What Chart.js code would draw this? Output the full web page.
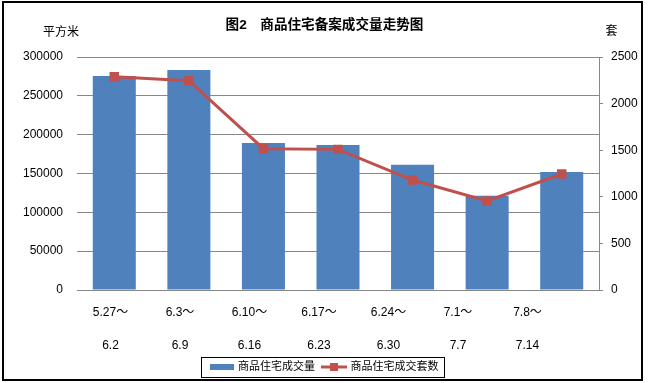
<!DOCTYPE html>
<html>
<head>
<meta charset="utf-8">
<script src="https://cdn.jsdelivr.net/npm/chart.js@4"></script>
<style>
  html, body { margin: 0; padding: 0; background: #fff; }
  #wrap { width: 649px; height: 383px; }
</style>
</head>
<body>
<div id="wrap"><canvas id="c" width="649" height="383"></canvas></div>
<script>
// ---- data ----
const categories = [
  ['5.27～', '6.2'],
  ['6.3～', '6.9'],
  ['6.10～', '6.16'],
  ['6.17～', '6.23'],
  ['6.24～', '6.30'],
  ['7.1～', '7.7'],
  ['7.8～', '7.14']
];
const areaValues = [275500, 283300, 189300, 186700, 161300, 121400, 151900];
const unitValues = [2289, 2246, 1516, 1509, 1180, 955, 1245];
const leftTicks = [0, 50000, 100000, 150000, 200000, 250000, 300000];
const rightTicks = [0, 500, 1000, 1500, 2000, 2500];
const titleText = '图2　商品住宅备案成交量走势图';
const leftUnit = '平方米';
const rightUnit = '套';
const seriesNames = ['商品住宅成交量', '商品住宅成交套数'];

const BLUE = '#4F81BD';
const RED = '#C0504D';
const GRID = '#888888';
const FONT = '"Liberation Sans", "Noto Sans CJK SC", sans-serif';

// legend symbol images
function makeBarSymbol() {
  const cv = document.createElement('canvas');
  cv.width = 24; cv.height = 6;
  const g = cv.getContext('2d');
  g.fillStyle = BLUE; g.fillRect(0, 0, 24, 6);
  return cv;
}
function makeLineSymbol() {
  const cv = document.createElement('canvas');
  cv.width = 26; cv.height = 8;
  const g = cv.getContext('2d');
  g.fillStyle = RED;
  g.fillRect(0, 3, 26, 3);
  g.fillRect(9, 0, 8, 8);
  return cv;
}
const barSym = makeBarSymbol();
const lineSym = makeLineSymbol();

const decor = {
  id: 'decor',
  beforeDraw(chart) {
    const ctx = chart.ctx;
    ctx.save();
    ctx.fillStyle = '#fff';
    ctx.fillRect(0, 0, chart.width, chart.height);
    ctx.restore();
  },
  afterDraw(chart) {
    const ctx = chart.ctx;
    ctx.save();
    // outer frame
    ctx.strokeStyle = '#000';
    ctx.lineWidth = 2;
    ctx.strokeRect(3, 2, 639, 378);
    // unit labels
    ctx.fillStyle = '#000';
    ctx.font = '12px ' + FONT;
    ctx.textAlign = 'center';
    ctx.textBaseline = 'middle';
    ctx.fillText(leftUnit, 61, 33);
    ctx.fillText(rightUnit, 611.5, 32);
    // legend frame
    const hb = chart.legend.legendHitBoxes;
    if (hb && hb.length) {
      const l = hb[0].left - 10;
      const last = hb[hb.length - 1];
      const r = last.left + last.width + 5;
      const cy = hb[0].top + hb[0].height / 2;
      ctx.strokeStyle = '#000';
      ctx.lineWidth = 1;
      ctx.strokeRect(Math.round(l) + 0.5, Math.round(cy - 10) + 0.5, Math.round(r - l), 20);
    }
    ctx.restore();
  }
};

new Chart(document.getElementById('c'), {
  data: {
    labels: categories,
    datasets: [
      {
        type: 'line',
        label: seriesNames[1],
        data: unitValues,
        yAxisID: 'y2',
        borderColor: RED,
        backgroundColor: RED,
        borderWidth: 3,
        pointStyle: 'rect',
        pointRadius: 6.7,
        pointBorderWidth: 0,
        pointBackgroundColor: RED,
        tension: 0,
        order: 0
      },
      {
        type: 'bar',
        label: seriesNames[0],
        data: areaValues,
        yAxisID: 'y',
        backgroundColor: BLUE,
        borderWidth: 0,
        categoryPercentage: 1,
        barPercentage: 0.577,
        order: 1
      }
    ]
  },
  options: {
    responsive: false,
    animation: false,
    devicePixelRatio: 1,
    layout: { padding: { left: 0, right: 0, top: 0, bottom: 1 } },
    plugins: {
      title: {
        display: true,
        text: titleText,
        color: '#000',
        font: { family: FONT, size: 13.6, weight: 'bold' },
        padding: { top: 16.6, bottom: 24.1 },
        align: 'center'
      },
      legend: {
        position: 'bottom',
        labels: {
          usePointStyle: true,
          pointStyleWidth: 22,
          padding: 8,
          color: '#000',
          font: { family: FONT, size: 11 },
          generateLabels() {
            return [
              { text: seriesNames[0], pointStyle: barSym, datasetIndex: 1, hidden: false, lineWidth: 0, fillStyle: BLUE, strokeStyle: BLUE },
              { text: seriesNames[1], pointStyle: lineSym, datasetIndex: 0, hidden: false, lineWidth: 0, fillStyle: RED, strokeStyle: RED }
            ];
          }
        }
      },
      tooltip: { enabled: false }
    },
    scales: {
      x: {
        type: 'category',
        display: false,
        offset: true
      },
      xl: {
        type: 'linear',
        position: 'bottom',
        min: -0.482,
        max: 7.029,
        afterBuildTicks(axis) { axis.ticks = categories.map((c, i) => ({ value: i })); },
        afterFit(scale) { scale.height = 63; },
        grid: { display: false },
        border: { display: false },
        ticks: {
          autoSkip: false,
          maxRotation: 0,
          padding: -2.3,
          color: '#000',
          font: { family: FONT, size: 12, lineHeight: '33px' },
          callback(v) { return categories[v]; }
        }
      },
      y: {
        type: 'linear',
        position: 'left',
        min: 0,
        max: 300000,
        afterBuildTicks(axis) { axis.ticks = leftTicks.map(v => ({ value: v })); },
        afterFit(scale) { scale.width = 77; },
        grid: { color: GRID, lineWidth: 1, drawTicks: false },
        border: { display: false },
        ticks: {
          padding: 14,
          color: '#000',
          font: { family: FONT, size: 12 },
          callback(v) { return String(v); }
        }
      },
      y2: {
        type: 'linear',
        position: 'right',
        min: 0,
        max: 2500,
        afterBuildTicks(axis) { axis.ticks = rightTicks.map(v => ({ value: v })); },
        afterFit(scale) { scale.width = 50; },
        grid: { drawOnChartArea: false, color: GRID, tickLength: 4 },
        border: { display: true, color: GRID },
        ticks: {
          padding: 8,
          color: '#000',
          font: { family: FONT, size: 12 },
          callback(v) { return String(v); }
        }
      }
    }
  },
  plugins: [decor]
});
</script>
</body>
</html>
